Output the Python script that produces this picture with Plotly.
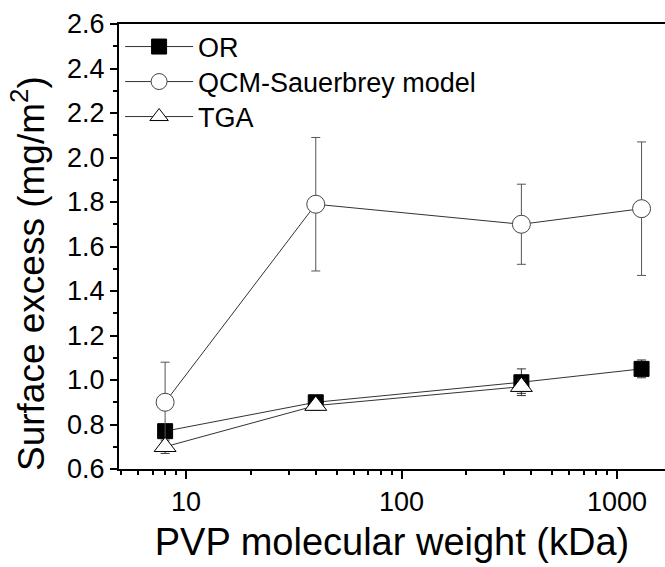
import plotly.graph_objects as go

# Data
mw = [8, 40, 360, 1300]          # PVP molecular weight (kDa)
or_y = [0.77, 0.90, 0.99, 1.05]
or_err = [0.02, 0.02, 0.06, 0.04]
qcm_y = [0.90, 1.79, 1.70, 1.77]
qcm_err = [0.18, 0.30, 0.18, 0.30]
tga_x = [8, 40, 360]
tga_y = [0.70, 0.885, 0.97]
tga_err = [0.03, 0.02, 0.03]

x_tickvals = [10, 100, 1000]
x_ticktext = ["10", "100", "1000"]
x_minor = [m * 10 ** e for e in range(0, 4) for m in range(2, 10)]

FONT = "Arial, Liberation Sans, sans-serif"
LINE = "#333333"

fig = go.Figure()

fig.add_trace(go.Scatter(
    x=mw, y=or_y, name="OR", mode="lines+markers", legend="legend",
    line=dict(color=LINE, width=1),
    marker=dict(symbol="square", size=15, color="black",
                line=dict(color="black", width=1)),
    error_y=dict(type="data", array=or_err, color="#333333", thickness=1, width=4.5),
))
fig.add_trace(go.Scatter(
    x=mw, y=qcm_y, name="QCM-Sauerbrey model", mode="lines+markers", legend="legend2",
    line=dict(color=LINE, width=1),
    marker=dict(symbol="circle", size=18, color="white",
                line=dict(color="#444444", width=1)),
    error_y=dict(type="data", array=qcm_err, color="#555555", thickness=1, width=4.5),
))
fig.add_trace(go.Scatter(
    x=tga_x, y=tga_y, name="TGA", mode="lines+markers", legend="legend3",
    line=dict(color=LINE, width=1),
    marker=dict(symbol="triangle-up", size=19, color="white",
                line=dict(color="black", width=1)),
    error_y=dict(type="data", array=tga_err, color="#333333", thickness=1, width=4.5),
))

def leg(ypix):
    return dict(x=0.002, y=(469 - ypix) / 445, xanchor="left", yanchor="middle",
                bgcolor="rgba(0,0,0,0)", borderwidth=0,
                font=dict(size=27, family=FONT, color="black"), itemwidth=68)

fig.update_layout(
    width=665, height=567,
    margin=dict(l=119, r=0, t=24, b=98),
    paper_bgcolor="white", plot_bgcolor="white",
    font=dict(family=FONT, color="black"),
    showlegend=True,
    legend=leg(47), legend2=leg(82), legend3=leg(117),
    xaxis=dict(
        type="log", range=[0.6891, 3.2227],
        tickmode="array", tickvals=x_tickvals, ticktext=x_ticktext,
        ticks="outside", ticklen=8, tickwidth=1.5, tickcolor="black",
        minor=dict(tickmode="array", tickvals=x_minor, ticks="outside",
                   ticklen=4, tickwidth=1.5, tickcolor="black", showgrid=False),
        showline=True, linewidth=2, linecolor="black", mirror=True,
        showgrid=False, zeroline=False,
        tickfont=dict(size=27, family=FONT),
        title=dict(text="PVP molecular weight (kDa)",
                   font=dict(size=38, family=FONT), standoff=12),
    ),
    yaxis=dict(
        range=[0.6, 2.6], tickmode="linear", tick0=0.6, dtick=0.2,
        tickformat=".1f",
        ticks="outside", ticklen=7, tickwidth=1.5, tickcolor="black",
        minor=dict(dtick=0.1, ticks="outside", ticklen=4, tickwidth=1.5,
                   tickcolor="black", showgrid=False),
        showline=True, linewidth=2, linecolor="black", mirror=False,
        showgrid=False, zeroline=False,
        tickfont=dict(size=27, family=FONT),
    ),
    annotations=[dict(
        text="Surface excess (mg/m<sup>2</sup>)", textangle=-90,
        xref="paper", yref="paper", x=(28 - 119) / 546, y=(469 - 274) / 445,
        xanchor="center", yanchor="middle", showarrow=False,
        font=dict(size=37, family=FONT, color="black"),
    )],
)

fig.write_html("out.html")
